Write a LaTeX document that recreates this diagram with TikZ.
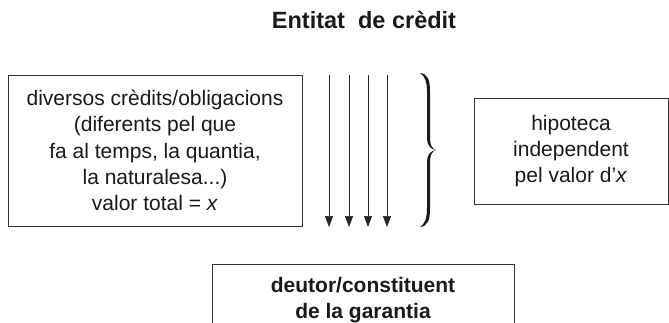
\documentclass[tikz,border=0pt]{standalone}
\usepackage{fontspec}
\setmainfont{Liberation Sans}
\usetikzlibrary{arrows.meta, positioning}

\tikzset{
	textbox/.style={draw=black!80, line width=0.8pt, align=center, text=black!90,
		font=\fontsize{21}{26.25}\selectfont, inner sep=0pt},
	creditarrow/.style={-{Triangle[length=11pt, width=8pt]}, line width=0.7pt, draw=black!85},
}

\begin{document}
\begin{tikzpicture}[x=1pt, y=-1pt]
		%frame of the picture
		\useasboundingbox (0,0) rectangle (669,322);
		
		%definition of top and bottom of the arrows
		\def\yTOP{75}
		\def\yBOT{227}
		
		%title
		\node [anchor=base, text=black!90, font=\fontsize{23.5}{26}\selectfont\bfseries] (entitat) at (364,28) {Entitat\ \ de crèdit};
		
		%boxes
		\node [textbox, minimum width=294pt, minimum height=151pt] (credits) at (155,150.5)
			{diversos crèdits/obligacions\\(diferents pel que\\fa al temps, la quantia,\\la naturalesa...)\\valor total = \textit{x}};
		\node [textbox, minimum width=194pt, minimum height=106pt] (hipoteca) at (571,151)
			{hipoteca\\independent\\pel valor d'\textit{x}};
		\node [textbox, anchor=north, minimum width=302pt, minimum height=71pt, font=\fontsize{21}{26}\selectfont\bfseries] (deutor) at (363,264)
			{deutor/constituent\\de la garantia};
		
		%credits flowing to the debtor
		\foreach \i/\x in {1/329, 2/349, 3/368, 4/387} {
			\coordinate (from \i) at (\x,\yTOP);
			\coordinate (to \i) at (\x,\yBOT);
			\draw [creditarrow] (from \i) -- (to \i);
		}
		
		%brace grouping the credits
		\fill [black!90] (420,73) .. controls (428,74) and (430,80) .. (430,92) -- (430,138)
			.. controls (430,145) and (432,148.5) .. (436,150)
			.. controls (432,151.5) and (430,155) .. (430,162) -- (430,208)
			.. controls (430,220) and (428,226) .. (420,227)
			.. controls (425,224) and (427,218) .. (427,208) -- (427,162)
			.. controls (427,155) and (430,151) .. (436,150)
			.. controls (430,149) and (427,145) .. (427,138) -- (427,92)
			.. controls (427,82) and (425,76) .. (420,73) -- cycle;

	\end{tikzpicture}
\end{document}
